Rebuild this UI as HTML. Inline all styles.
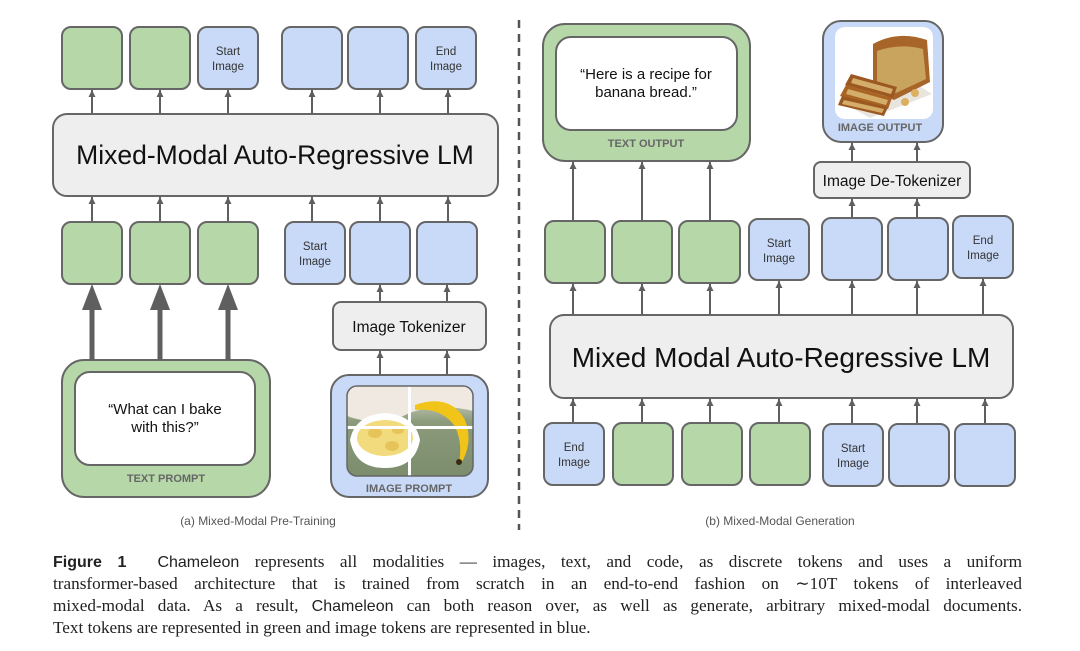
<!DOCTYPE html>
<html><head><meta charset="utf-8"><style>
html,body{margin:0;padding:0;background:#fff;}
body{width:1080px;height:651px;overflow:hidden;position:relative;}
svg{position:absolute;left:0;top:0;}
.cap{position:absolute;left:53px;width:969px;font-family:"Liberation Serif",serif;font-size:17.2px;line-height:22px;color:#222;text-align:justify;}
.cap .l{display:block;text-align:justify;text-align-last:justify;height:22px;}
.cap .last{text-align-last:left;}
.sans{font-family:"Liberation Sans",sans-serif;}
</style></head><body>
<svg width="1080" height="651" viewBox="0 0 1080 651" font-family="Liberation Sans, sans-serif">
<defs>
<marker id="ah" markerWidth="8" markerHeight="8" refX="7" refY="3.5" orient="auto" markerUnits="userSpaceOnUse">
<path d="M0,0 L7,3.5 L0,7 Z" fill="#5f5f5f"/></marker>
<linearGradient id="bg1" x1="0" y1="0" x2="0" y2="1"><stop offset="0" stop-color="#ece7df"/><stop offset="0.4" stop-color="#8a9a7a"/><stop offset="1" stop-color="#7c8d6d"/></linearGradient>
<clipPath id="c1"><rect x="347" y="386" width="126" height="90" rx="10"/></clipPath>
<clipPath id="c2"><rect x="835" y="27" width="98" height="92" rx="10"/></clipPath>
</defs>
<g stroke="#666" stroke-width="2">
<rect x="62" y="27" width="60" height="62" rx="9" fill="#b6d7a8"/>
<rect x="130" y="27" width="60" height="62" rx="9" fill="#b6d7a8"/>
<rect x="198" y="27" width="60" height="62" rx="9" fill="#c9daf8"/>
<rect x="282" y="27" width="60" height="62" rx="9" fill="#c9daf8"/>
<rect x="348" y="27" width="60" height="62" rx="9" fill="#c9daf8"/>
<rect x="416" y="27" width="60" height="62" rx="9" fill="#c9daf8"/>
<rect x="53" y="114" width="445" height="82" rx="14" fill="#eeeeee"/>
<rect x="62" y="222" width="60" height="62" rx="9" fill="#b6d7a8"/>
<rect x="130" y="222" width="60" height="62" rx="9" fill="#b6d7a8"/>
<rect x="198" y="222" width="60" height="62" rx="9" fill="#b6d7a8"/>
<rect x="285" y="222" width="60" height="62" rx="9" fill="#c9daf8"/>
<rect x="350" y="222" width="60" height="62" rx="9" fill="#c9daf8"/>
<rect x="417" y="222" width="60" height="62" rx="9" fill="#c9daf8"/>
<rect x="333" y="302" width="153" height="48" rx="8" fill="#eeeeee"/>
<rect x="62" y="360" width="208" height="137" rx="22" fill="#b6d7a8"/>
<rect x="75" y="372" width="180" height="93" rx="15" fill="#ffffff"/>
<rect x="331" y="375" width="157" height="122" rx="18" fill="#c9daf8"/>
<rect x="543" y="24" width="207" height="137" rx="22" fill="#b6d7a8"/>
<rect x="556" y="37" width="181" height="93" rx="15" fill="#ffffff"/>
<rect x="823" y="21" width="120" height="121" rx="18" fill="#c9daf8"/>
<rect x="814" y="162" width="156" height="36" rx="7" fill="#eeeeee"/>
<rect x="545" y="221" width="60" height="62" rx="9" fill="#b6d7a8"/>
<rect x="612" y="221" width="60" height="62" rx="9" fill="#b6d7a8"/>
<rect x="679" y="221" width="61" height="62" rx="9" fill="#b6d7a8"/>
<rect x="749" y="219" width="60" height="61" rx="9" fill="#c9daf8"/>
<rect x="822" y="218" width="60" height="62" rx="9" fill="#c9daf8"/>
<rect x="888" y="218" width="60" height="62" rx="9" fill="#c9daf8"/>
<rect x="953" y="216" width="60" height="62" rx="9" fill="#c9daf8"/>
<rect x="550" y="315" width="463" height="83" rx="14" fill="#eeeeee"/>
<rect x="544" y="423" width="60" height="62" rx="9" fill="#c9daf8"/>
<rect x="613" y="423" width="60" height="62" rx="9" fill="#b6d7a8"/>
<rect x="682" y="423" width="60" height="62" rx="9" fill="#b6d7a8"/>
<rect x="750" y="423" width="60" height="62" rx="9" fill="#b6d7a8"/>
<rect x="823" y="424" width="60" height="62" rx="9" fill="#c9daf8"/>
<rect x="889" y="424" width="60" height="62" rx="9" fill="#c9daf8"/>
<rect x="955" y="424" width="60" height="62" rx="9" fill="#c9daf8"/>
</g>
<g clip-path="url(#c1)">
<rect x="347" y="386" width="126" height="90" fill="url(#bg1)"/>
<path d="M347,386 h126 v25 q-40,-10 -70,5 q-30,10 -56,0 z" fill="#efe9e2"/>
<path d="M350,440 q5,-25 35,-27 q30,2 35,27 q-5,28 -35,28 q-30,0 -35,-28z" fill="#ffffff"/>
<ellipse cx="385" cy="438" rx="28" ry="18" fill="#f2db7d"/>
<ellipse cx="375" cy="433" rx="7" ry="5" fill="#e6c45a"/><ellipse cx="392" cy="446" rx="7" ry="5" fill="#e6c45a"/><ellipse cx="398" cy="430" rx="6" ry="4" fill="#e6c45a"/>
<path d="M415,405 q35,-12 50,15 q8,20 -2,40 l-4,3 q4,-22 -5,-38 q-14,-18 -39,-15z" fill="#f0c419"/>
<circle cx="459" cy="462" r="3" fill="#3a2a10"/>
<rect x="408" y="386" width="3" height="90" fill="#fff"/>
<rect x="347" y="426" width="126" height="3" fill="#fff"/>
</g>
<rect x="347" y="386" width="126" height="90" rx="10" fill="none" stroke="#666" stroke-width="1.5"/>
<g clip-path="url(#c2)">
<rect x="835" y="27" width="98" height="92" fill="#ffffff"/>
<path d="M838,100 l72,-20 l22,14 l-62,24 z" fill="#e8e4de"/>
<path d="M873,44 q25,-14 54,-4 l3,42 l-36,18 l-21,-10 z" fill="#a8652a"/>
<path d="M877,51 q22,-8 46,-2 l3,30 l-30,14 l-19,-10z" fill="#c9a45e"/>
<path d="M851,74 l46,13 l-4,11 l-48,-13 z" fill="#9b5820"/>
<path d="M846,85 l46,13 l-4,11 l-48,-13 z" fill="#a96424"/>
<path d="M842,96 l46,11 l-4,9 l-46,-11 z" fill="#9b5820"/>
<path d="M853,78 l40,11 l-2,5 l-40,-11z" fill="#d4ad6a"/>
<path d="M848,89 l40,11 l-2,5 l-40,-11z" fill="#d4ad6a"/>
<path d="M844,100 l40,9 l-2,4 l-40,-9z" fill="#d4ad6a"/>
<circle cx="915" cy="93" r="4" fill="#dcb060"/><circle cx="905" cy="102" r="4" fill="#dcb060"/>
</g>
<g stroke="#5f5f5f" stroke-width="2" marker-end="url(#ah)">
<line x1="92" y1="113" x2="92" y2="90"/><line x1="160" y1="113" x2="160" y2="90"/><line x1="228" y1="113" x2="228" y2="90"/>
<line x1="312" y1="113" x2="312" y2="90"/><line x1="380" y1="113" x2="380" y2="90"/><line x1="448" y1="113" x2="448" y2="90"/>
<line x1="92" y1="221" x2="92" y2="197"/><line x1="160" y1="221" x2="160" y2="197"/><line x1="228" y1="221" x2="228" y2="197"/>
<line x1="312" y1="221" x2="312" y2="197"/><line x1="380" y1="221" x2="380" y2="197"/><line x1="448" y1="221" x2="448" y2="197"/>
<line x1="380" y1="301" x2="380" y2="285"/><line x1="447" y1="301" x2="447" y2="285"/>
<line x1="380" y1="374" x2="380" y2="351"/><line x1="447" y1="374" x2="447" y2="351"/>
<line x1="573" y1="220" x2="573" y2="162"/><line x1="642" y1="220" x2="642" y2="162"/><line x1="710" y1="220" x2="710" y2="162"/>
<line x1="852" y1="161" x2="852" y2="143"/><line x1="917" y1="161" x2="917" y2="143"/>
<line x1="852" y1="217" x2="852" y2="199"/><line x1="917" y1="217" x2="917" y2="199"/>
<line x1="573" y1="314" x2="573" y2="284"/><line x1="642" y1="314" x2="642" y2="284"/><line x1="710" y1="314" x2="710" y2="284"/><line x1="779" y1="314" x2="779" y2="281"/>
<line x1="852" y1="314" x2="852" y2="281"/><line x1="917" y1="314" x2="917" y2="281"/><line x1="983" y1="314" x2="983" y2="279"/>
<line x1="573" y1="422" x2="573" y2="399"/><line x1="642" y1="422" x2="642" y2="399"/><line x1="710" y1="422" x2="710" y2="399"/><line x1="779" y1="422" x2="779" y2="399"/>
<line x1="852" y1="423" x2="852" y2="399"/><line x1="917" y1="423" x2="917" y2="399"/><line x1="985" y1="423" x2="985" y2="399"/>
</g>
<g fill="#5f5f5f">
<rect x="89.5" y="308" width="5" height="52"/><path d="M82,310 L92,284 L102,310Z"/>
<rect x="157.5" y="308" width="5" height="52"/><path d="M150,310 L160,284 L170,310Z"/>
<rect x="225.5" y="308" width="5" height="52"/><path d="M218,310 L228,284 L238,310Z"/>
</g>
<line x1="519" y1="20" x2="519" y2="530" stroke="#555" stroke-width="2.5" stroke-dasharray="8,6"/>
<g font-size="11.5" fill="#333" text-anchor="middle">
<text x="228" y="55">Start</text><text x="228" y="70">Image</text>
<text x="446" y="55">End</text><text x="446" y="70">Image</text>
<text x="315" y="250">Start</text><text x="315" y="265">Image</text>
<text x="779" y="247">Start</text><text x="779" y="262">Image</text>
<text x="983" y="244">End</text><text x="983" y="259">Image</text>
<text x="574" y="451">End</text><text x="574" y="466">Image</text>
<text x="853" y="452">Start</text><text x="853" y="467">Image</text>
</g>
<text x="275" y="164" font-size="26.5" text-anchor="middle" fill="#111">Mixed-Modal Auto-Regressive LM</text>
<text x="781" y="367" font-size="28" text-anchor="middle" fill="#111">Mixed Modal Auto-Regressive LM</text>
<text x="409" y="332" font-size="15.5" text-anchor="middle" fill="#111">Image Tokenizer</text>
<text x="892" y="186" font-size="15.5" text-anchor="middle" fill="#111">Image De-Tokenizer</text>
<text x="165" y="414" font-size="15" text-anchor="middle" fill="#111">“What can I bake</text>
<text x="165" y="432" font-size="15" text-anchor="middle" fill="#111">with this?”</text>
<text x="646" y="79" font-size="15" text-anchor="middle" fill="#111">“Here is a recipe for</text>
<text x="646" y="97" font-size="15" text-anchor="middle" fill="#111">banana bread.”</text>
<g font-size="11" font-weight="bold" fill="#666" text-anchor="middle">
<text x="166" y="482">TEXT PROMPT</text>
<text x="409" y="492">IMAGE PROMPT</text>
<text x="646" y="147">TEXT OUTPUT</text>
<text x="880" y="131">IMAGE OUTPUT</text>
</g>
<text x="258" y="525" font-size="12" text-anchor="middle" fill="#555">(a) Mixed-Modal Pre-Training</text>
<text x="780" y="525" font-size="12" text-anchor="middle" fill="#555">(b) Mixed-Modal Generation</text>
</svg>
<div class="cap" style="top:551px;">
<span class="l"><b class="sans" style="font-size:16px;">Figure 1</b>&nbsp; <span class="sans" style="font-size:16px;">Chameleon</span> represents all modalities — images, text, and code, as discrete tokens and uses a uniform</span>
<span class="l">transformer-based architecture that is trained from scratch in an end-to-end fashion on ∼10T tokens of interleaved</span>
<span class="l">mixed-modal data. As a result, <span class="sans" style="font-size:16px;">Chameleon</span> can both reason over, as well as generate, arbitrary mixed-modal documents.</span>
<span class="l last">Text tokens are represented in green and image tokens are represented in blue.</span>
</div>
</body></html>
